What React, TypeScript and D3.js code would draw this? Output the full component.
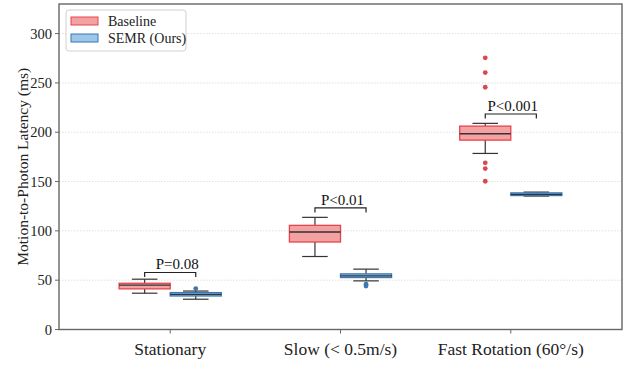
import * as d3 from "d3";
import React, { useEffect, useRef } from "react";

// conditions on the x axis
const categories = ["Stationary", "Slow (< 0.5m/s)", "Fast Rotation (60°/s)"];
const seriesNames = ["Baseline", "SEMR (Ours)"];

// [whisker low, q1, median, q3, whisker high]
const baselineStats = [
  [36.8, 41.2, 45, 46.9, 51],
  [74, 88.7, 98.8, 105.6, 113.7],
  [178.5, 192, 198.5, 206.2, 209],
];
const semrStats = [
  [30.7, 34, 35.6, 37.4, 39],
  [49.3, 52.7, 54.4, 56.4, 61.2],
  [135.3, 135.8, 137, 138.5, 139.3],
];

const baselineFliers = [[], [], [275.4, 260.5, 245.6, 169, 163.2, 150.3]];
const semrFliers = [[41.5], [46, 44], []];

// significance brackets
const pLabels = ["P=0.08", "P<0.01", "P<0.001"];
const bracketTops = [57.8, 123.3, 218.5];

const yTicks = [0, 50, 100, 150, 200, 250, 300];

const W = 626;
const H = 369;

const App = () => {
  const svgRef = useRef<SVGSVGElement | null>(null);

  useEffect(() => {
    const svg = d3.select(svgRef.current);
    svg.selectAll("*").remove();

    const left = 59,
      right = 622,
      top = 4,
      bottom = 329.5;

    const x = d3.scaleLinear().domain([-0.653, 2.653]).range([left, right]);
    const y = d3.scaleLinear().domain([0, 330]).range([bottom, top]);
    const boxW = 0.3;
    const offset = 0.15;

    // grid
    svg
      .append("g")
      .selectAll("line")
      .data(yTicks.filter((d) => d > 0))
      .enter()
      .append("line")
      .attr("x1", left)
      .attr("x2", right)
      .attr("y1", (d) => y(d))
      .attr("y2", (d) => y(d))
      .attr("stroke", "#d8d8d8")
      .attr("stroke-width", 0.8)
      .attr("stroke-dasharray", "1.5,1.5");

    const series = [
      {
        stats: baselineStats,
        fliers: baselineFliers,
        dx: -offset,
        fill: "#f4a1a4",
        edge: "#e5454c",
        dot: "#d9474f",
      },
      {
        stats: semrStats,
        fliers: semrFliers,
        dx: offset,
        fill: "#9dc6e9",
        edge: "#3877b6",
        dot: "#3b78b2",
      },
    ];

    series.forEach((s) => {
      s.stats.forEach((st, i) => {
        const cx = x(i + s.dx);
        const half = x(boxW / 2) - x(0);
        const cap = half / 2;
        const g = svg.append("g");
        const [lo, q1, med, q3, hi] = st;
        // whiskers
        g.append("line")
          .attr("x1", cx).attr("x2", cx)
          .attr("y1", y(q3)).attr("y2", y(hi))
          .attr("stroke", "#333").attr("stroke-width", 1.2);
        g.append("line")
          .attr("x1", cx).attr("x2", cx)
          .attr("y1", y(q1)).attr("y2", y(lo))
          .attr("stroke", "#333").attr("stroke-width", 1.2);
        [lo, hi].forEach((v) =>
          g.append("line")
            .attr("x1", cx - cap).attr("x2", cx + cap)
            .attr("y1", y(v)).attr("y2", y(v))
            .attr("stroke", "#333").attr("stroke-width", 1.2)
        );
        g.append("rect")
          .attr("x", cx - half)
          .attr("width", half * 2)
          .attr("y", y(q3))
          .attr("height", Math.max(y(q1) - y(q3), 1))
          .attr("fill", s.fill)
          .attr("stroke", s.edge)
          .attr("stroke-width", 1.3);
        g.append("line")
          .attr("x1", cx - half).attr("x2", cx + half)
          .attr("y1", y(med)).attr("y2", y(med))
          .attr("stroke", "#333").attr("stroke-width", 1.4);
        g.selectAll("circle")
          .data(s.fliers[i])
          .enter()
          .append("circle")
          .attr("cx", cx)
          .attr("cy", (d) => y(d))
          .attr("r", 2.4)
          .attr("fill", s.dot);
      });
    });

    // p-value brackets
    pLabels.forEach((p, i) => {
      const x1 = x(i - offset);
      const x2 = x(i + offset);
      const yt = y(bracketTops[i]);
      const drop = y(bracketTops[i] - 4.7) - yt;
      svg
        .append("path")
        .attr("d", `M${x1},${yt + drop}V${yt}H${x2}V${yt + drop}`)
        .attr("fill", "none")
        .attr("stroke", "#222")
        .attr("stroke-width", 1.2);
      svg
        .append("text")
        .attr("class", "serif")
        .attr("x", (x1 + x2) / 2 + (i === 0 ? 7 : 2))
        .attr("y", yt - 3)
        .attr("text-anchor", "middle")
        .attr("font-size", 15)
        .attr("fill", "#111")
        .text(p);
    });

    // spines
    svg
      .append("rect")
      .attr("x", left)
      .attr("y", top)
      .attr("width", right - left)
      .attr("height", bottom - top)
      .attr("fill", "none")
      .attr("stroke", "#666")
      .attr("stroke-width", 1.4);

    // y ticks
    const yt = svg.append("g");
    yTicks.forEach((t) => {
      yt.append("line")
        .attr("x1", left - 4).attr("x2", left)
        .attr("y1", y(t)).attr("y2", y(t))
        .attr("stroke", "#666").attr("stroke-width", 1);
      yt.append("text")
        .attr("class", "serif")
        .attr("x", left - 7)
        .attr("y", y(t))
        .attr("dy", "0.35em")
        .attr("text-anchor", "end")
        .attr("font-size", 14.5)
        .attr("fill", "#222")
        .text(t);
    });

    // x ticks
    categories.forEach((c, i) => {
      svg.append("line")
        .attr("x1", x(i)).attr("x2", x(i))
        .attr("y1", bottom).attr("y2", bottom + 4)
        .attr("stroke", "#666").attr("stroke-width", 1);
      svg.append("text")
        .attr("class", "serif")
        .attr("x", x(i))
        .attr("y", 355)
        .attr("text-anchor", "middle")
        .attr("font-size", 17.5)
        .attr("fill", "#222")
        .text(c);
    });

    // y label
    svg
      .append("text")
      .attr("class", "serif")
      .attr("transform", `translate(28,${(top + bottom) / 2}) rotate(-90)`)
      .attr("text-anchor", "middle")
      .attr("font-size", 15.5)
      .attr("fill", "#222")
      .text("Motion-to-Photon Latency (ms)");

    // legend
    const lg = svg.append("g");
    lg.append("rect")
      .attr("x", 66).attr("y", 10)
      .attr("width", 120).attr("height", 41)
      .attr("rx", 3)
      .attr("fill", "#fff")
      .attr("stroke", "#d0d0d0");
    seriesNames.forEach((n, i) => {
      const s = series[i];
      lg.append("rect")
        .attr("x", 71).attr("y", 17 + i * 17)
        .attr("width", 27).attr("height", 8)
        .attr("fill", s.fill)
        .attr("stroke", s.edge)
        .attr("stroke-width", 1);
      lg.append("text")
        .attr("class", "serif")
        .attr("x", 108)
        .attr("y", 21 + i * 17)
        .attr("dy", "0.35em")
        .attr("font-size", 14)
        .attr("fill", "#222")
        .text(n);
    });
  }, []);

  return (
    <>
      <style>{`.serif { font-family: "Liberation Serif", "Times New Roman", "DejaVu Serif", serif; }`}</style>
      <svg
        ref={svgRef}
        width={W}
        height={H}
        style={{ position: "absolute", left: 0, top: 0, background: "#fff" }}
      />
    </>
  );
};

export default App;
